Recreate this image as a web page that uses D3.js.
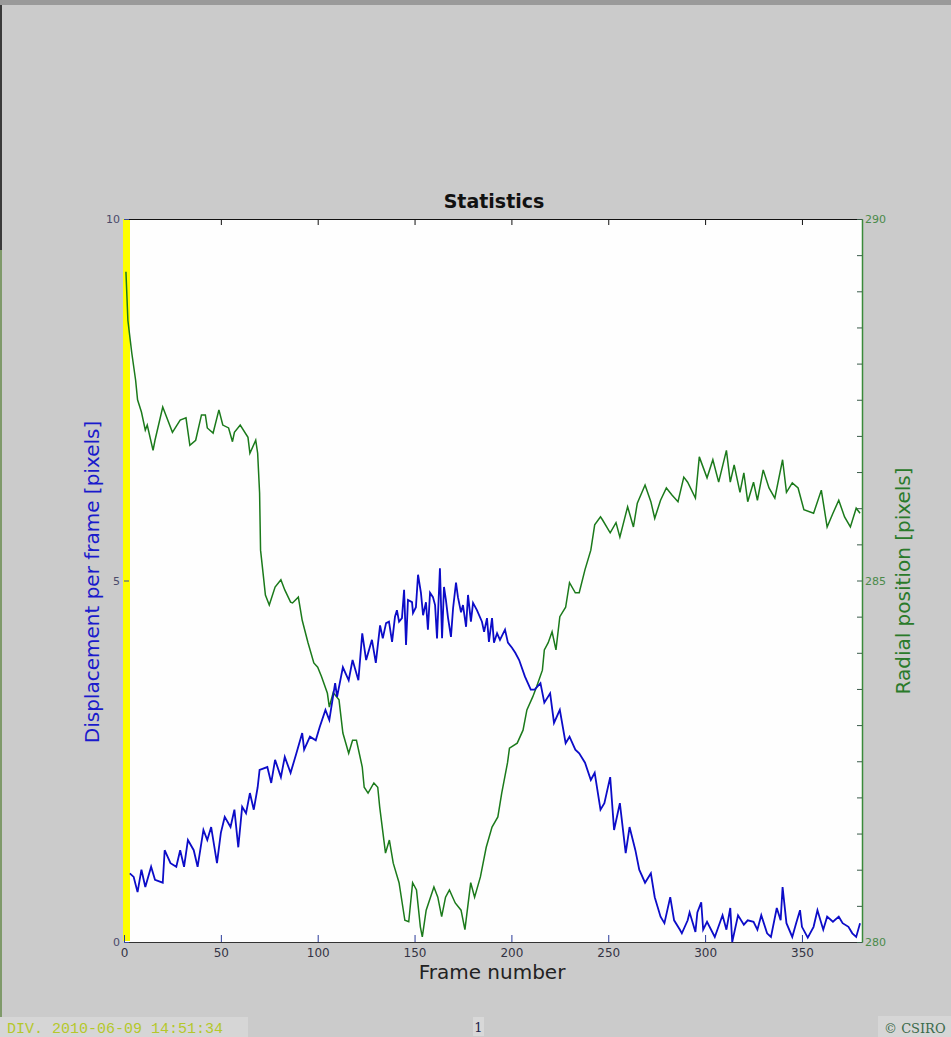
<!DOCTYPE html>
<html>
<head>
<meta charset="utf-8">
<script src="https://cdnjs.cloudflare.com/ajax/libs/d3/7.8.5/d3.min.js"></script>
<style>
  html, body { margin: 0; padding: 0; background: #cbcbcb; }
  svg { display: block; }
</style>
</head>
<body>
<script>
// radial position (right axis), frame -> pixels
var greenFrames = [1,2,4,6,7,9,11,12,15,16,20,25,29,32,34,37,40,42,43,46,49,51,54,56,57,60,64,65,68,69,70,70.5,72,73,75,78,81,83,86,87,90,92,95,98,100,102,105,106,108,111,113,116,118,120,123,124,126,129,131,132,135,137,139,142,145,147,149,151,153,154,156,160,162,164,166,168,171,174,176,179,181,184,187,190,193,195,198,199,203,206,208,211,213,216,217,219,221,223,225,228,230,233,235,238,241,243,246,247,251,254,256,260,263,265,269,272,274,277,280,283,286,289,291,295,297,301,304,307,311,313,315,318,320,322,325,327,330,333,336,340,342,345,348,351,356,360,363,366,369,372,375,378,380];
var greenVals = [289.27,288.60,288.15,287.77,287.50,287.33,287.08,287.15,286.80,286.94,287.40,287.05,287.22,287.25,286.87,286.94,287.29,287.29,287.11,287.04,287.36,287.15,287.11,286.92,287.05,287.15,286.98,286.76,286.94,286.76,286.21,285.42,285.05,284.80,284.66,284.91,285.01,284.87,284.70,284.69,284.77,284.45,284.14,283.86,283.80,283.67,283.44,283.25,283.45,283.35,282.89,282.61,282.79,282.79,282.42,282.14,282.06,282.20,282.14,281.87,281.23,281.41,281.09,280.82,280.30,280.28,280.82,280.72,280.21,280.07,280.44,280.76,280.62,280.35,280.62,280.72,280.54,280.44,280.17,280.82,280.62,280.90,281.31,281.59,281.73,282.06,282.48,282.68,282.75,282.93,283.21,283.39,283.53,283.76,284.04,284.14,284.29,284.04,284.50,284.63,284.97,284.83,284.83,285.15,285.42,285.77,285.88,285.84,285.66,285.80,285.60,286.02,285.74,286.07,286.32,286.09,285.86,286.11,286.28,286.18,286.09,286.43,286.36,286.14,286.71,286.42,286.67,286.36,286.80,286.36,286.60,286.22,286.49,286.09,286.36,286.11,286.53,286.28,286.14,286.67,286.22,286.35,286.28,285.98,285.93,286.25,285.74,285.93,286.11,285.88,285.74,286.00,285.93];

// displacement per frame (left axis)
var blueFrames = [3,5,7,9,11,14,16,20,21,24,27,29,31,33,36,38,41,43,45,48,50,52,55,57,59,61,63,65,67,69,70,74,76,78,81,83,86,89,92,93,96,99,101,104,106,109,110,113,116,118,121,123,125,128,130,
  132.2,133.6,135.3,136.8,138.4,139.9,140.9,142,143.5,144.6,145.6,146.6,148.7,149.2,150.7,151.8,153.3,154.4,155.9,156.9,158,159.5,160.6,161.6,163.1,164.2,165.2,166.2,167.3,168.8,169.9,171.4,172.4,174,175,176.6,177.6,179.1,180.2,182.2,184.8,185.9,187.4,188.4,190,191,192.6,194.1,196.7,198.2,200.3,
  202,204,207,210,212,215,217,220,222,225,228,230,233,235,238,241,243,246,248,251,253,256,259,261,264,266,269,272,274,277,279,282,284,287,288,291,292,295,296,298,299,301,305,309,311,313,314,317,320,322,325,327,329,332,334,337,339,340,342,345,347,349,350,353,356,358,361,363,366,369,371,374,376,378,380];
var blueVals = [0.95,0.90,0.69,1.00,0.76,1.04,0.86,0.82,1.27,1.09,1.04,1.27,1.04,1.41,1.27,1.04,1.55,1.41,1.59,1.09,1.51,1.73,1.59,1.83,1.31,1.87,1.78,2.06,1.83,2.14,2.38,2.42,2.20,2.52,2.28,2.56,2.34,2.61,2.89,2.66,2.84,2.79,2.97,3.21,3.07,3.58,3.39,3.80,3.62,3.90,3.62,4.27,3.90,4.18,3.86,
  4.38,4.20,4.41,4.43,4.15,4.50,4.59,4.43,4.48,4.87,4.11,4.73,4.70,4.55,4.63,5.08,4.83,4.52,4.70,4.32,4.83,4.77,4.66,4.20,5.17,4.20,4.91,4.73,4.48,4.22,4.62,4.97,4.77,4.56,4.66,4.36,4.80,4.43,4.69,4.59,4.43,4.29,4.48,4.15,4.48,4.14,4.27,4.18,4.32,4.14,4.07,
  4.00,3.90,3.67,3.49,3.49,3.58,3.31,3.44,3.03,3.21,2.75,2.84,2.66,2.61,2.48,2.24,2.34,1.83,1.92,2.28,1.55,1.92,1.23,1.59,1.27,1.00,0.82,0.95,0.62,0.35,0.26,0.62,0.30,0.17,0.12,0.30,0.41,0.14,0.41,0.55,0.17,0.28,0.07,0.37,0.17,0.47,0.00,0.37,0.24,0.30,0.28,0.17,0.37,0.12,0.07,0.47,0.30,0.76,0.26,0.07,0.26,0.44,0.21,0.06,0.21,0.44,0.17,0.35,0.28,0.35,0.26,0.21,0.12,0.07,0.26];

var xTicks = [0,50,100,150,200,250,300,350];
var leftTicks = [0,5,10];
var rightLabels = [280,285,290];

var W = 951, H = 1037;
var svg = d3.select("body").append("svg").attr("width", W).attr("height", H);

// window chrome
svg.append("rect").attr("x",0).attr("y",0).attr("width",W).attr("height",H).attr("fill","#cbcbcb");
svg.append("rect").attr("x",0).attr("y",0).attr("width",W).attr("height",5).attr("fill","#9a9a9a");
svg.append("rect").attr("x",0).attr("y",5).attr("width",2).attr("height",245).attr("fill","#3a3a3a");
svg.append("rect").attr("x",0).attr("y",250).attr("width",2).attr("height",787).attr("fill","#7f9a6a");

var x = d3.scaleLinear().domain([0,381]).range([124,862]);
var yL = d3.scaleLinear().domain([0,10]).range([942,219]);
var yR = d3.scaleLinear().domain([280,290]).range([942,219]);

// plot area
svg.append("rect").attr("x",124).attr("y",219).attr("width",738).attr("height",723).attr("fill","#fefefe");
// cursor strip
svg.append("rect").attr("x",x(0)-1).attr("y",219).attr("width",7).attr("height",722).attr("fill","#ffff00");

// top mirror axis
var gTop = svg.append("g").attr("transform","translate(0,219)")
  .call(d3.axisTop(x).tickValues(xTicks.slice(1)).tickSize(-6).tickSizeOuter(0).tickFormat(""));
gTop.selectAll("path,line").attr("stroke","#111");

// bottom axis
var gBot = svg.append("g").attr("transform","translate(0,942)")
  .call(d3.axisBottom(x).tickValues(xTicks).tickSize(-7).tickSizeOuter(0).tickPadding(6));
gBot.select(".domain").attr("stroke","#333");
gBot.selectAll("line").attr("stroke","#2a3a9a");
gBot.selectAll("text").attr("fill","#333344").attr("font-family","DejaVu Sans, sans-serif").attr("font-size",12);

// left axis
var gLeft = svg.append("g").attr("transform","translate(124,0)")
  .call(d3.axisLeft(yL).tickValues(leftTicks).tickSize(-5).tickSizeOuter(0).tickPadding(4));
gLeft.select(".domain").attr("stroke","none");
gLeft.selectAll("line").attr("stroke","#3a4a9a");
gLeft.selectAll("text").attr("fill","#4a4a6a").attr("font-family","DejaVu Sans, sans-serif").attr("font-size",11);

// right axis
var gRight = svg.append("g").attr("transform","translate(862,0)")
  .call(d3.axisRight(yR).tickValues(d3.range(280,290.01,0.5)).tickSize(-5).tickSizeOuter(0).tickPadding(3)
    .tickFormat(function(d){ return rightLabels.indexOf(d) >= 0 ? d : ""; }));
gRight.select(".domain").attr("stroke","#3a8a3a").attr("stroke-width",1.5);
gRight.selectAll("line").attr("stroke","#3a5a4a");
gRight.selectAll("text").attr("fill","#4a8a4a").attr("font-family","DejaVu Sans, sans-serif").attr("font-size",11);

// series
var green = greenFrames.map(function(f,i){ return [f, greenVals[i]]; });
var blue = blueFrames.map(function(f,i){ return [f, blueVals[i]]; });

svg.append("path").datum(green)
  .attr("fill","none").attr("stroke","#1b7a1b").attr("stroke-width",1.5)
  .attr("d", d3.line().x(function(d){ return x(d[0]); }).y(function(d){ return yR(d[1]); }));

svg.append("path").datum(blue)
  .attr("fill","none").attr("stroke","#0c0cc8").attr("stroke-width",1.8)
  .attr("d", d3.line().x(function(d){ return x(d[0]); }).y(function(d){ return yL(d[1]); }));

// titles
svg.append("text").attr("x",494).attr("y",208).attr("text-anchor","middle")
  .attr("font-family","DejaVu Sans, sans-serif").attr("font-size",19).attr("font-weight","bold").attr("fill","#111")
  .text("Statistics");
svg.append("text").attr("x",492).attr("y",979).attr("text-anchor","middle")
  .attr("font-family","DejaVu Sans, sans-serif").attr("font-size",20).attr("fill","#222")
  .text("Frame number");
svg.append("text").attr("transform","translate(99,582) rotate(-90)").attr("text-anchor","middle")
  .attr("font-family","DejaVu Sans, sans-serif").attr("font-size",20).attr("fill","#1a1acc")
  .text("Displacement per frame [pixels]");
svg.append("text").attr("transform","translate(910,581) rotate(-90)").attr("text-anchor","middle")
  .attr("font-family","DejaVu Sans, sans-serif").attr("font-size",20).attr("fill","#2a7a2a")
  .text("Radial position [pixels]");

// status bar
svg.append("rect").attr("x",0).attr("y",1017).attr("width",248).attr("height",20).attr("fill","#d6d6d6");
svg.append("text").attr("x",7).attr("y",1033).attr("font-family","Liberation Mono, monospace")
  .attr("font-size",15).attr("fill","#b4c82a").text("DIV.  2010-06-09 14:51:34");
svg.append("rect").attr("x",473).attr("y",1017).attr("width",11).attr("height",19).attr("fill","#d8d8d8");
svg.append("text").attr("x",478.5).attr("y",1032).attr("text-anchor","middle").attr("font-family","DejaVu Serif, serif")
  .attr("font-size",13).attr("fill","#22224a").text("1");
svg.append("rect").attr("x",878).attr("y",1016).attr("width",73).attr("height",21).attr("fill","#d6d6d6");
svg.append("text").attr("x",884).attr("y",1033).attr("font-family","DejaVu Serif, serif")
  .attr("font-size",13).attr("fill","#3a6a4a").text("\u00a9 CSIRO");
</script>
</body>
</html>
